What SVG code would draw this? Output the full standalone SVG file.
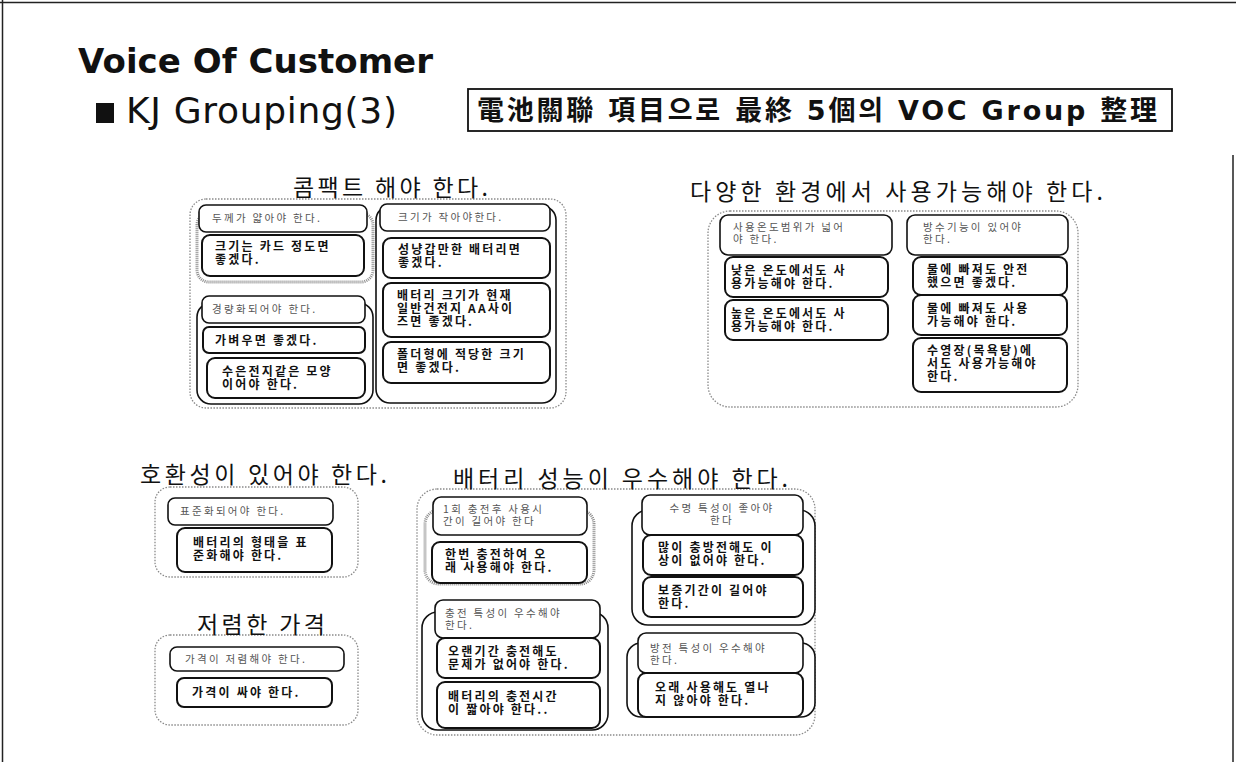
<svg xmlns="http://www.w3.org/2000/svg" width="1236" height="762" viewBox="0 0 1236 762">
<style>
.frame{fill:none;stroke:#222;stroke-width:1.5}
.outer{fill:none;stroke:#8a8a8a;stroke-width:1.3;stroke-dasharray:1.5 1.5}
.stackg{fill:#fff;stroke:#8c8c8c;stroke-width:3;stroke-dasharray:1 1}
.stack{fill:#fff;stroke:#111;stroke-width:1.6}
.hdr{fill:#fff;stroke:#111;stroke-width:1.6}
.det{fill:#fff;stroke:#111;stroke-width:2}
.ht{font-family:"Noto Sans CJK KR","Noto Sans",sans-serif;font-size:10.5px;fill:#555;letter-spacing:2.3px}
.dt{font-family:"Noto Sans CJK KR","Noto Sans",sans-serif;font-size:12px;font-weight:bold;fill:#111;letter-spacing:2.2px}
.gt{font-family:"Noto Sans CJK KR","Noto Sans",sans-serif;font-size:23px;fill:#111}
</style>
<rect width="1236" height="762" fill="#fff"/>
<path class="frame" d="M0 2.5H1236M2.5 0V762M1233 155V762"/>
<g id="header">
<text x="78" y="73" font-family="DejaVu Sans,sans-serif" font-weight="bold" font-size="34" textLength="355" fill="#111">Voice Of Customer</text>
<rect x="96" y="103" width="18" height="20" fill="#111"/>
<text x="126" y="123" font-family="DejaVu Sans,sans-serif" font-size="36" textLength="271" fill="#111">KJ Grouping(3)</text>
</g>
<g id="summary-box">
<rect x="468" y="89" width="704" height="42" fill="#fff" stroke="#111" stroke-width="1.8"/>
<text x="477" y="120" font-family="DejaVu Sans,'Noto Sans CJK KR',sans-serif" font-weight="bold" font-size="27" textLength="680" fill="#111">電池關聯 項目으로 最終 5個의 VOC Group 整理</text>
</g>
<g id="connectors"/>

<g id="group-compact">
<rect class="outer" x="190" y="199" width="376" height="209" rx="16"/>
<text class="gt" x="293" y="196" textLength="195">콤팩트 해야 한다.</text>
<g id="compact-thin">
<rect class="stackg" x="197" y="213" width="176" height="69" rx="12"/>
<rect class="hdr" x="199" y="205" width="168" height="27" rx="7"/>
<text class="ht" x="212" y="222">두께가 얇아야 한다.</text>
<rect class="det" x="202" y="235" width="162" height="41" rx="8"/>
<text class="dt" x="215" y="251">크기는 카드 정도면<tspan x="215" dy="13">좋겠다.</tspan></text>
</g>
<g id="compact-light">
<rect class="stack" x="197" y="303" width="176" height="101" rx="14"/>
<rect class="hdr" x="202" y="296" width="163" height="27" rx="7"/>
<text class="ht" x="212" y="313">경량화되어야 한다.</text>
<rect class="det" x="203" y="327" width="162" height="26" rx="6"/>
<text class="dt" x="215" y="345">가벼우면 좋겠다.</text>
<rect class="det" x="207" y="358" width="158" height="40" rx="8"/>
<text class="dt" x="222" y="376">수은전지같은 모양<tspan x="222" dy="13">이어야 한다.</tspan></text>
</g>
<g id="compact-small">
<rect class="stack" x="376" y="206" width="180" height="197" rx="14"/>
<rect class="hdr" x="380" y="204" width="170" height="27" rx="7"/>
<text class="ht" x="398" y="221">크기가 작아야한다.</text>
<rect class="det" x="383" y="238" width="167" height="40" rx="8"/>
<text class="dt" x="398" y="254">성냥갑만한 배터리면<tspan x="398" dy="13">좋겠다.</tspan></text>
<rect class="det" x="383" y="283" width="167" height="54" rx="8"/>
<text class="dt" x="397" y="300">배터리 크기가 현재<tspan x="397" dy="13">일반건전지 AA사이</tspan><tspan x="397" dy="13">즈면 좋겠다.</tspan></text>
<rect class="det" x="383" y="342" width="167" height="41" rx="8"/>
<text class="dt" x="397" y="359">폴더형에 적당한 크기<tspan x="397" dy="13">면 좋겠다.</tspan></text>
</g>
</g>

<g id="group-environment">
<rect class="outer" x="708" y="211" width="370" height="196" rx="22"/>
<text class="gt" x="690" y="200" textLength="413">다양한 환경에서 사용가능해야 한다.</text>
<g id="env-temp">
<rect class="hdr" x="720" y="215" width="172" height="40" rx="8"/>
<text class="ht" x="733" y="231">사용온도범위가 넓어<tspan x="733" dy="12">야 한다.</tspan></text>
<rect class="det" x="725" y="257" width="163" height="40" rx="8"/>
<text class="dt" x="731" y="275">낮은 온도에서도 사<tspan x="731" dy="13">용가능해야 한다.</tspan></text>
<rect class="det" x="725" y="300" width="163" height="40" rx="8"/>
<text class="dt" x="731" y="318">높은 온도에서도 사<tspan x="731" dy="13">용가능해야 한다.</tspan></text>
</g>
<g id="env-water">
<rect class="hdr" x="907" y="215" width="161" height="40" rx="8"/>
<text class="ht" x="923" y="231">방수기능이 있어야<tspan x="923" dy="12">한다.</tspan></text>
<rect class="det" x="913" y="257" width="154" height="38" rx="8"/>
<text class="dt" x="927" y="274">물에 빠져도 안전<tspan x="927" dy="13">했으면 좋겠다.</tspan></text>
<rect class="det" x="913" y="295" width="154" height="40" rx="8"/>
<text class="dt" x="927" y="313">물에 빠져도 사용<tspan x="927" dy="13">가능해야 한다.</tspan></text>
<rect class="det" x="913" y="338" width="154" height="54" rx="8"/>
<text class="dt" x="927" y="355">수영장(목욕탕)에<tspan x="927" dy="13">서도 사용가능해야</tspan><tspan x="927" dy="13">한다.</tspan></text>
</g>
</g>

<g id="group-compat">
<rect class="outer" x="155" y="487" width="203" height="90" rx="15"/>
<text class="gt" x="140" y="483" textLength="247">호환성이 있어야 한다.</text>
<rect class="hdr" x="168" y="498" width="165" height="27" rx="7"/>
<text class="ht" x="180" y="515">표준화되어야 한다.</text>
<rect class="det" x="177" y="528" width="155" height="44" rx="8"/>
<text class="dt" x="193" y="547">배터리의 형태을 표<tspan x="193" dy="13">준화해야 한다.</tspan></text>
</g>

<g id="group-price">
<rect class="outer" x="155" y="635" width="203" height="90" rx="15"/>
<text class="gt" x="197" y="633" textLength="128">저렴한 가격</text>
<rect class="hdr" x="170" y="647" width="174" height="24" rx="7"/>
<text class="ht" x="185" y="663">가격이 저렴해야 한다.</text>
<rect class="det" x="177" y="678" width="155" height="29" rx="7"/>
<text class="dt" x="192" y="697">가격이 싸야 한다.</text>
</g>

<g id="group-battery">
<rect class="outer" x="417" y="489" width="398" height="246" rx="20"/>
<text class="gt" x="453" y="487" textLength="335">배터리 성능이 우수해야 한다.</text>
<g id="bat-usage">
<rect class="stackg" x="425" y="510" width="169" height="74" rx="14"/>
<rect class="hdr" x="433" y="497" width="154" height="38" rx="8"/>
<text class="ht" x="443" y="513">1회 충전후 사용시<tspan x="443" dy="12">간이 길어야 한다</tspan></text>
<rect class="det" x="432" y="542" width="155" height="41" rx="8"/>
<text class="dt" x="445" y="559">한번 충전하여 오<tspan x="445" dy="13">래 사용해야 한다.</tspan></text>
</g>
<g id="bat-charge">
<rect class="stack" x="422" y="612" width="186" height="118" rx="16"/>
<rect class="hdr" x="435" y="600" width="165" height="38" rx="8"/>
<text class="ht" x="445" y="617">충전 특성이 우수해야<tspan x="445" dy="12">한다.</tspan></text>
<rect class="det" x="437" y="638" width="163" height="40" rx="8"/>
<text class="dt" x="448" y="656">오랜기간 충전해도<tspan x="448" dy="13">문제가 없어야 한다.</tspan></text>
<rect class="det" x="437" y="682" width="163" height="46" rx="8"/>
<text class="dt" x="448" y="701">배터리의 충전시간<tspan x="448" dy="13">이 짧아야 한다..</tspan></text>
</g>
<g id="bat-life">
<rect class="stack" x="632" y="510" width="183" height="115" rx="16"/>
<rect class="hdr" x="642" y="495" width="161" height="40" rx="8"/>
<text class="ht" x="722" y="512" text-anchor="middle">수명 특성이 좋아야<tspan x="722" dy="12">한다</tspan></text>
<rect class="det" x="643" y="535" width="160" height="40" rx="8"/>
<text class="dt" x="658" y="552">많이 충방전해도 이<tspan x="658" dy="13">상이 없어야 한다.</tspan></text>
<rect class="det" x="643" y="577" width="160" height="40" rx="8"/>
<text class="dt" x="658" y="595">보증기간이 길어야<tspan x="658" dy="13">한다.</tspan></text>
</g>
<g id="bat-discharge">
<rect class="stack" x="627" y="643" width="188" height="74" rx="14"/>
<rect class="hdr" x="638" y="633" width="165" height="40" rx="8"/>
<text class="ht" x="650" y="652">방전 특성이 우수해야<tspan x="650" dy="12">한다.</tspan></text>
<rect class="det" x="638" y="673" width="165" height="44" rx="8"/>
<text class="dt" x="655" y="692">오래 사용해도 열나<tspan x="655" dy="13">지 않아야 한다.</tspan></text>
</g>
</g>
</svg>
